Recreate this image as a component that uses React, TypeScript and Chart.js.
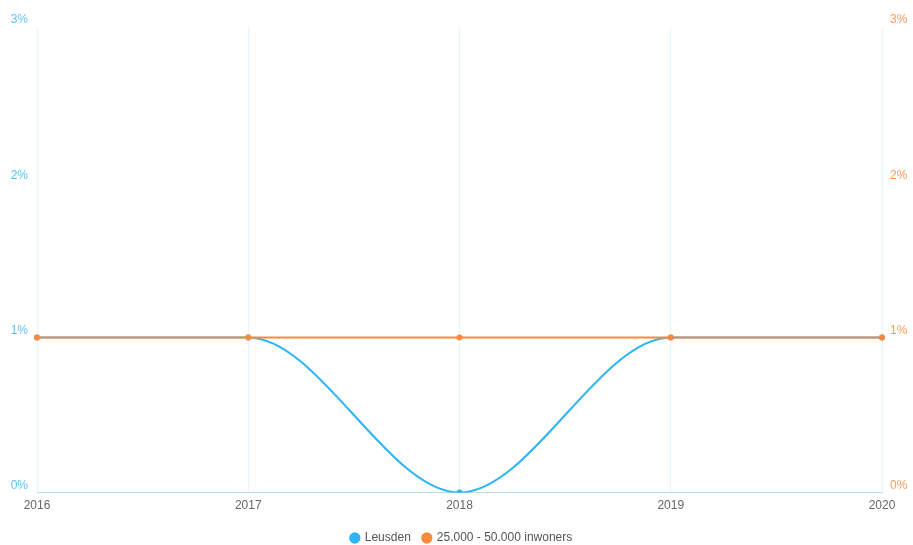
import React, { useEffect, useRef } from "react";
import { Chart, registerables } from "chart.js";

Chart.register(...registerables);

const years = ["2016", "2017", "2018", "2019", "2020"];
const leusden = [1, 1, 0, 1, 1];
const inwoners = [1, 1, 1, 1, 1];
const yTicks = [0, 1, 2, 3];

const BLUE = "#2db4f5";
const ORANGE = "#fb8a3c";
const FONT = "Liberation Sans, Arial";

export default function App() {
  const canvasRef = useRef<HTMLCanvasElement>(null);

  useEffect(() => {
    document.body.style.margin = "0";
    if (!canvasRef.current) return;

    const chart = new Chart(canvasRef.current, {
      type: "line",
      data: {
        labels: years,
        datasets: [
          {
            label: "Leusden",
            data: leusden,
            borderColor: BLUE,
            backgroundColor: BLUE,
            borderWidth: 2,
            pointRadius: 3,
            pointBorderWidth: 0,
            cubicInterpolationMode: "monotone",
            yAxisID: "y",
            order: 1,
          },
          {
            label: "25.000 - 50.000 inwoners",
            data: inwoners,
            borderColor: ORANGE,
            backgroundColor: ORANGE,
            borderWidth: 2,
            pointRadius: 3,
            pointBorderWidth: 0,
            cubicInterpolationMode: "monotone",
            yAxisID: "y1",
            order: 0,
          },
        ],
      },
      options: {
        animation: false,
        responsive: false,
        // left padding also nudges the centred legend to the right
        layout: { padding: { top: 27, right: 0, left: 10, bottom: -9 } },
        scales: {
          x: {
            grid: { color: "#e6f5fc", drawTicks: false },
            border: { color: "#b5dcea" },
            afterFit: (axis) => {
              axis.height += 1;
            },
            ticks: {
              color: "#666",
              padding: 6,
              maxRotation: 0,
              font: { family: FONT, size: 12 },
            },
          },
          y: {
            position: "left",
            min: 0,
            max: 3,
            afterBuildTicks: (axis) => {
              axis.ticks = yTicks.map((v) => ({ value: v }));
            },
            afterFit: (axis) => {
              axis.width = 27;
            },
            grid: { display: false, drawTicks: false },
            border: { display: false },
            ticks: {
              color: "#5cc3f5",
              labelOffset: -7,
              padding: 9,
              font: { family: FONT, size: 12 },
              callback: (v) => `${v}%`,
            },
          },
          y1: {
            position: "right",
            min: 0,
            max: 3,
            afterBuildTicks: (axis) => {
              axis.ticks = yTicks.map((v) => ({ value: v }));
            },
            afterFit: (axis) => {
              axis.width = 31;
            },
            grid: { display: false, drawTicks: false },
            border: { display: false },
            ticks: {
              color: "#fd9a55",
              labelOffset: -7,
              padding: 8,
              font: { family: FONT, size: 12 },
              callback: (v) => `${v}%`,
            },
          },
        },
        plugins: {
          legend: {
            position: "bottom",
            labels: {
              usePointStyle: true,
              pointStyle: "circle",
              boxWidth: 8,
              boxHeight: 8,
              color: "#555",
              padding: 12,
              font: { family: FONT, size: 12 },
              sort: (a, b) => (a.datasetIndex ?? 0) - (b.datasetIndex ?? 0),
            },
          },
          tooltip: { enabled: false },
        },
      },
    });

    return () => {
      chart.destroy();
    };
  }, []);

  return (
    <div style={{ width: 913, height: 545, background: "#fff" }}>
      <canvas ref={canvasRef} width={913} height={545} />
    </div>
  );
}
